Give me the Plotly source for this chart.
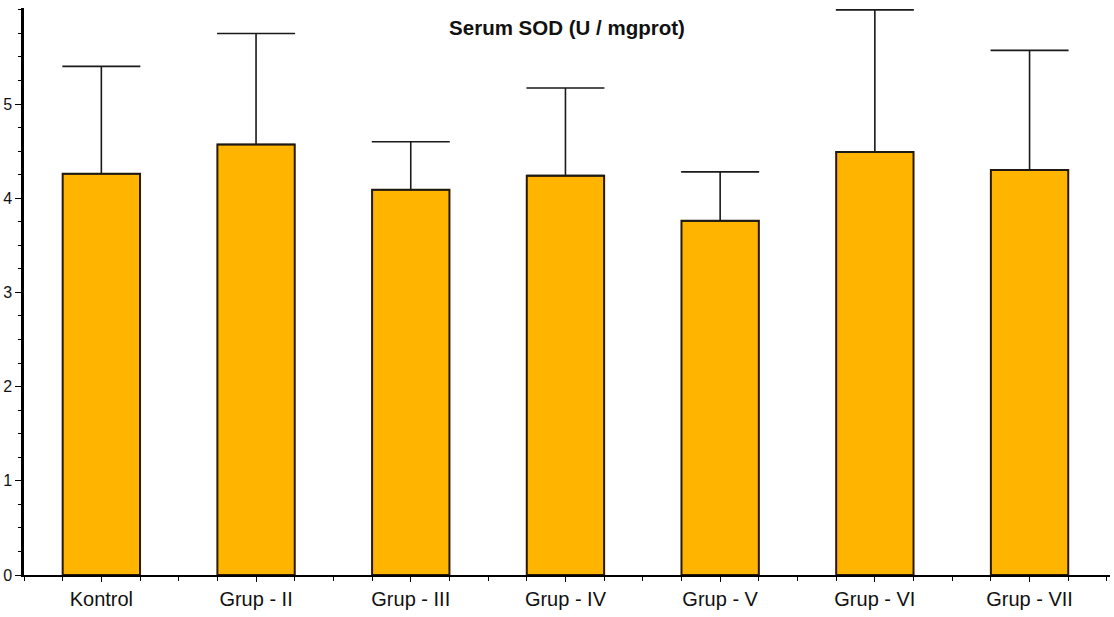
import plotly.graph_objects as go

categories = ["Kontrol", "Grup - II", "Grup - III", "Grup - IV", "Grup - V", "Grup - VI", "Grup - VII"]
means = [4.26, 4.57, 4.09, 4.24, 3.76, 4.49, 4.30]
upper = [5.40, 5.75, 4.60, 5.17, 4.28, 6.00, 5.57]
err_plus = [u - m for u, m in zip(upper, means)]
positions = list(range(len(categories)))

fig = go.Figure()
fig.add_trace(go.Bar(
    x=positions, y=means, width=0.5,
    marker=dict(color="#FFB500", line=dict(color="#2a1800", width=2)),
    error_y=dict(type="data", symmetric=False, array=err_plus,
                 arrayminus=[0] * len(means), color="#1a1a1a", thickness=1.6, width=39),
    showlegend=False,
))

font_family = "Liberation Sans, Arial, sans-serif"
fig.update_layout(
    width=1114, height=617,
    margin=dict(l=24, r=4, t=8, b=42),
    paper_bgcolor="white", plot_bgcolor="white",
    font=dict(family=font_family, color="black"),
    title=dict(text="<b>Serum SOD (U / mgprot)</b>", x=0.5, xanchor="center", xref="paper",
               y=1 - 28 / 617, yref="container", yanchor="middle",
               font=dict(size=20.5, family=font_family, color="#111")),
    bargap=0.5,
)
fig.update_xaxes(
    range=[-0.5, 6.52], tickvals=positions, ticktext=categories,
    showline=True, linecolor="black", linewidth=2, showgrid=False, zeroline=False,
    ticks="outside", ticklen=5, tickcolor="black", tickwidth=1,
    tickfont=dict(size=20, color="#111"),
    minor=dict(dtick=0.25, tick0=0, ticks="outside", ticklen=4, tickcolor="black", tickwidth=1, showgrid=False),
)
fig.update_yaxes(
    range=[0, 6.02], tickvals=[0, 1, 2, 3, 4, 5],
    showline=True, linecolor="black", linewidth=2.5, showgrid=False, zeroline=False,
    ticks="outside", ticklen=6, tickcolor="black", tickwidth=1,
    tickfont=dict(size=16, color="#111"),
    minor=dict(dtick=0.25, tick0=0, ticks="outside", ticklen=3, tickcolor="black", tickwidth=1, showgrid=False),
)

fig.write_html("out.html")
